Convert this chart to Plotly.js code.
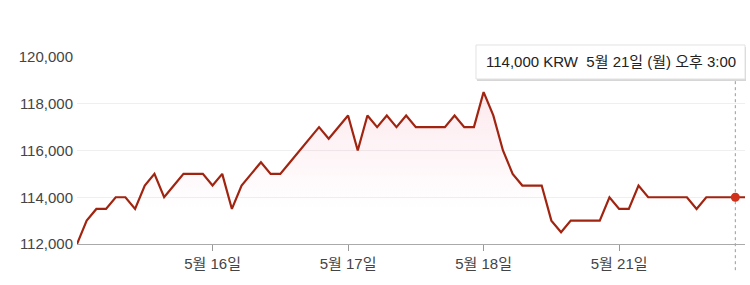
<!DOCTYPE html>
<html>
<head>
<meta charset="utf-8">
<script src="https://cdn.plot.ly/plotly-3.0.1.min.js"></script>
<style>html,body{margin:0;padding:0;background:#fff;}#chart{width:750px;height:285px;}</style>
</head>
<body>
<div id="chart"></div>
<script>
// Trading days and 30-minute sessions (09:00 – 15:30)
const days = ['5월 15일', '5월 16일', '5월 17일', '5월 18일', '5월 21일'];
const times = ['09:00','09:30','10:00','10:30','11:00','11:30','12:00','12:30','13:00','13:30','14:00','14:30','15:00','15:30'];
// Price (KRW) per session
const prices = [
  112000, 113000, 113500, 113500, 114000, 114000, 113500, 114500, 115000, 114000, 114500, 115000, 115000, 115000,
  114500, 115000, 113500, 114500, 115000, 115500, 115000, 115000, 115500, 116000, 116500, 117000, 116500, 117000,
  117500, 116000, 117500, 117000, 117500, 117000, 117500, 117000, 117000, 117000, 117000, 117500, 117000, 117000,
  118500, 117500, 116000, 115000, 114500, 114500, 114500, 113000, 112500, 113000, 113000, 113000, 113000, 114000,
  113500, 113500, 114500, 114000, 114000, 114000, 114000, 114000, 113500, 114000, 114000, 114000, 114000, 114000
];
const tickDays = ['5월 16일', '5월 17일', '5월 18일', '5월 21일'];
const yTicks = [112000, 114000, 116000, 118000, 120000];
const hoverIndex = 68;
const hoverLabel = '114,000 KRW  5월 21일 (월) 오후 3:00';

const xs = [];
days.forEach(d => times.forEach(t => xs.push(d + ' ' + t)));
const x = xs.slice(0, prices.length);

const FONT = 'Arial, "Liberation Sans", "Noto Sans CJK KR", sans-serif';

const traces = [
  {
    x: x, y: prices, type: 'scatter', mode: 'lines',
    line: {color: '#a02410', width: 2.2},
    fill: 'tozeroy',
    fillgradient: {
      type: 'vertical', start: 113500, stop: 118500,
      colorscale: [[0, 'rgba(240,120,150,0)'], [1, 'rgba(240,120,150,0.16)']]
    },
    hoverinfo: 'skip'
  },
  {
    x: [x[hoverIndex]], y: [prices[hoverIndex]], type: 'scatter', mode: 'markers',
    marker: {color: '#d0311a', size: 9}, hoverinfo: 'skip'
  }
];

const layout = {
  width: 750, height: 285,
  margin: {l: 77, r: 5, t: 57, b: 41},
  paper_bgcolor: '#fff', plot_bgcolor: '#fff',
  showlegend: false,
  font: {family: FONT, size: 15, color: '#444'},
  xaxis: {
    type: 'category',
    range: [0, prices.length - 1],
    tickmode: 'array',
    tickvals: tickDays.map(d => d + ' 09:00'),
    ticktext: tickDays,
    ticks: 'outside', ticklen: 6, tickcolor: '#999', tickwidth: 1,
    showline: true, linecolor: '#aaa', linewidth: 1,
    showgrid: false, zeroline: false,
    tickfont: {family: FONT, size: 15, color: '#444'}
  },
  yaxis: {
    range: [112000, 120000],
    tickmode: 'array', tickvals: yTicks,
    ticktext: yTicks.map(v => v.toLocaleString('en-US')),
    showgrid: true, gridcolor: '#efefef', gridwidth: 1,
    zeroline: false, showline: false, ticks: '',
    ticklabelstandoff: 3,
    tickfont: {family: FONT, size: 15, color: '#444'}
  },
  shapes: [
    {type: 'line', xref: 'x', yref: 'paper', x0: x[hoverIndex], x1: x[hoverIndex], y0: -0.14, y1: 0.877,
     line: {color: '#999', width: 1, dash: 'dot'}, layer: 'below'},
    {type: 'rect', xref: 'paper', yref: 'paper', x0: 0.5988, x1: 1.0015, y0: 0.8717, y1: 1.0535,
     fillcolor: 'rgba(0,0,0,0.16)', line: {width: 0}, layer: 'above'},
    {type: 'rect', xref: 'paper', yref: 'paper', x0: 0.5973, x1: 1.0, y0: 0.8824, y1: 1.0642,
     fillcolor: '#fff', line: {color: '#e2e2e2', width: 1}, layer: 'above'}
  ],
  annotations: [
    {xref: 'paper', yref: 'paper', x: 0.800, y: 0.975, xanchor: 'center', yanchor: 'middle',
     text: hoverLabel, showarrow: false,
     font: {family: FONT, size: 15, color: '#222'}}
  ]
};

Plotly.newPlot('chart', traces, layout, {staticPlot: true, displayModeBar: false});
</script>
</body>
</html>
